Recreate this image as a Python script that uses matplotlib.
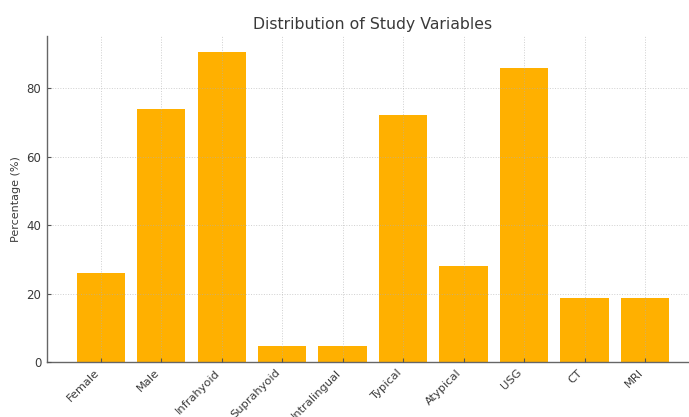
import matplotlib
matplotlib.use("Agg")
import matplotlib.pyplot as plt

categories = ["Female", "Male", "Infrahyoid", "Suprahyoid", "Intralingual",
              "Typical", "Atypical", "USG", "CT", "MRI"]
percentages = [26.0, 74.0, 90.7, 4.7, 4.7, 72.1, 27.9, 86.0, 18.6, 18.6]

plt.rcParams["font.family"] = "DejaVu Sans"
text_color = "#3a3a3a"

fig = plt.figure(figsize=(6.89, 4.17), dpi=100)
ax = fig.add_axes([0.0682, 0.1319, 0.946, 0.7818])

ax.bar(categories, percentages, color="#ffb000", width=0.8, zorder=1)

# Light dotted grid, drawn faintly over the bars
ax.grid(True, linestyle=":", color="#b0b0b0", linewidth=0.7, alpha=0.6, zorder=3)
ax.set_axisbelow(False)

ax.spines["top"].set_visible(False)
ax.spines["right"].set_visible(False)
for s in ["left", "bottom"]:
    ax.spines[s].set_color("#666666")
    ax.spines[s].set_linewidth(1.0)

ax.set_title("Distribution of Study Variables", fontsize=11.3, color=text_color, pad=5)
ax.set_ylabel("Percentage (%)", fontsize=8, color=text_color, labelpad=4)
ax.tick_params(axis="both", direction="in", labelsize=8.5, colors="#555555",
               labelcolor=text_color, length=3, pad=4)
plt.setp(ax.get_xticklabels(), rotation=45, ha="right", fontsize=8.2)
ax.set_yticks([0, 20, 40, 60, 80])

plt.savefig("out.png", dpi=100)
